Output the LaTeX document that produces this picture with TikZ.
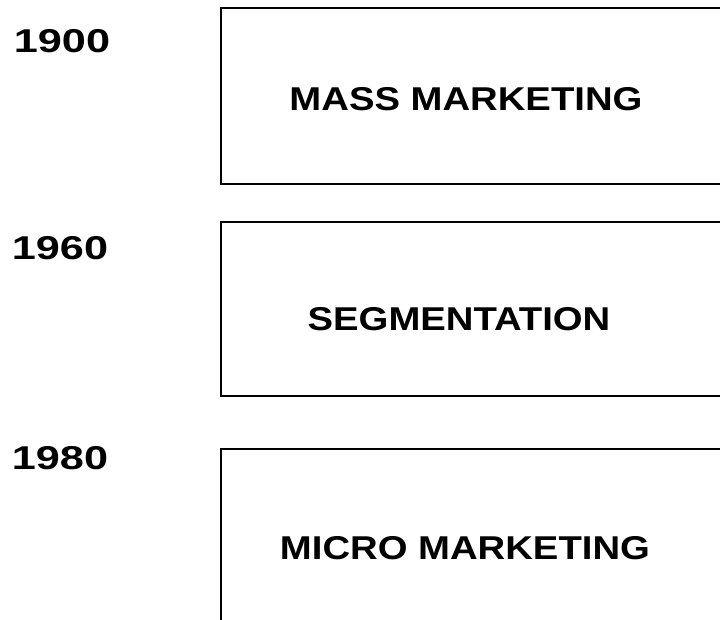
\documentclass[tikz,border=0pt]{standalone}
\usepackage{fontspec}
\setmainfont{Liberation Sans}[FakeStretch=1.16]
\newfontfamily\yearfont{Liberation Sans}[FakeStretch=1.31]
\begin{document}
\begin{tikzpicture}[x=1pt,y=1pt,
  lbl/.style={inner sep=0pt,font=\fontsize{33}{38}\selectfont\bfseries},
  yr/.style={inner sep=0pt,font=\yearfont\fontsize{33}{38}\selectfont\bfseries},
  boxline/.style={line width=1.5pt,line join=miter}]
\useasboundingbox (0,0) rectangle (720,619);
\clip (0,0) rectangle (720,619);
% boxes (extend past right edge)
\draw[boxline] (740,611) -- (221,611) -- (221,435) -- (740,435);
\draw[boxline] (740,397) -- (221,397) -- (221,223) -- (740,223);
\draw[boxline] (740,170) -- (221,170) -- (221,-5);
% box labels
\node[lbl] (mass) at (466,520) {MASS MARKETING};
\node[lbl] (seg) at (459,300) {SEGMENTATION};
\node[lbl] (micro) at (465,71) {MICRO MARKETING};
% years
\node[yr] (y1900) at (62,578) {1900};
\node[yr] (y1960) at (60,371) {1960};
\node[yr] (y1980) at (60,161) {1980};
\end{tikzpicture}
\end{document}
